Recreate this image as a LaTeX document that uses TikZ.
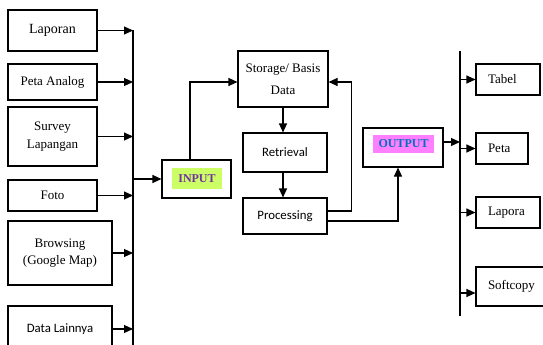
\documentclass[tikz,border=0pt]{standalone}
\usepackage{fontspec}
\setmainfont{Liberation Serif}
\newfontfamily\calibri{Carlito}
\usetikzlibrary{arrows.meta, calc}
\definecolor{cgreen}{HTML}{CCFF66}
\definecolor{cpink}{HTML}{FF80FF}
\definecolor{cpurple}{HTML}{7030A0}
\definecolor{cblue}{HTML}{0070C0}
\tikzset{
  every picture/.style={line width=1.1pt, x=1pt, y=-1pt},
  box/.style={draw, fill=white, align=center, inner sep=2pt, font=\rmfamily\fontsize{13}{17.5}\selectfont},
  sbox/.style={box, font=\calibri\fontsize{12.8}{15}\selectfont},
  tag/.style={fill=#1, inner sep=0pt, font=\rmfamily\fontsize{12}{14}\selectfont\bfseries},
  obox/.style={box, align=left, inner xsep=12pt},
  arrow/.style={-{Triangle[length=9pt, width=8pt]}},
}
\newcommand{\ibox}[6]{% name, x, y, width, height, text
  \node[box, minimum width=#4, minimum height=#5] (#1) at (#2,#3) {#6};}
\newcommand{\rbox}[6]{% name, x, y, text width, height, text
  \node[obox, text width=#4, minimum height=#5] (#1) at (#2,#3) {#6};}

\begin{document}
\begin{tikzpicture}
  \useasboundingbox (0,0) rectangle (543,345);
  % left: data sources into the bus
  \ibox{laporan}{52.5}{30.5}{89}{41}{\fontsize{14}{17}\selectfont Laporan}
  \ibox{analog}{52.5}{82}{89}{36}{Peta Analog}
  \ibox{survey}{52.5}{136.5}{89}{59}{Survey\\Lapangan}
  \ibox{foto}{52.5}{195.5}{89}{31}{Foto}
  \ibox{browsing}{60}{253}{104}{64}{Browsing\\(Google Map)}
  \node[sbox, minimum width=104, minimum height=46] (lainnya) at (60,329) {Data Lainnya};
  \coordinate (busL) at (133,0);
  \draw (laporan.east -| busL) -- ++(0,315);
  \foreach \n in {laporan, analog, survey, foto, browsing, lainnya}
    \draw[arrow] (\n.east) -- (\n.east -| busL);
  % middle: input, storage, retrieval, processing
  \node[box, minimum width=69, minimum height=38] (input) at (196.5,179) {};
  \node[tag=cgreen, text=cpurple, minimum width=50, minimum height=21] (inputtag) at (197,178.5) {INPUT};
  \draw[arrow] (input.west -| busL) -- (input.west);
  \node[box, minimum width=90, minimum height=56, font=\rmfamily\fontsize{13}{22}\selectfont] (storage) at (283,79) {Storage/ Basis\\Data};
  \node[sbox, minimum width=84, minimum height=39] (retrieval) at (285,152.5) {Retrieval};
  \node[sbox, minimum width=84, minimum height=36] (processing) at (285,216) {Processing};
  \draw[arrow] ([xshift=-6.5pt]input.north) |- ([yshift=-3pt]storage.west);
  \draw[arrow] (storage.south) -- (storage.south |- retrieval.north);
  \draw[arrow] (storage.south |- retrieval.south) -- (storage.south |- processing.north);
  \draw[arrow] ([yshift=5pt]processing.east) -- ++(24,0) |- ([yshift=-3pt]storage.east);
  % output
  \node[box, minimum width=80, minimum height=39] (output) at (403,147.5) {};
  \node[tag=cpink, text=cblue, minimum width=61, minimum height=18] (outputtag) at (403.5,144) {OUTPUT};
  \draw[arrow] ([yshift=-5pt]processing.east) -| ([xshift=-5pt]output.south);
  % right: bus out to the products
  \coordinate (busR) at (460,51);
  \draw (busR) -- ++(0,265);
  \draw[arrow] ([yshift=5.5pt]output.east) -- ([yshift=5.5pt]output.east -| busR);
  \rbox{tabel}{508}{79.5}{40pt}{31}{Tabel}
  \rbox{peta}{502}{148.5}{28pt}{31}{Peta}
  \rbox{lapora}{508}{212.5}{40pt}{31}{Lapora}
  \rbox{softcopy}{512}{286.5}{48pt}{39}{Softcopy}
  \foreach \n in {tabel, peta, lapora}
    \draw[arrow] (\n.west -| busR) -- (\n.west);
  \draw[arrow] ([yshift=-6.5pt]softcopy.west -| busR) -- ([yshift=-6.5pt]softcopy.west);
\end{tikzpicture}
\end{document}
